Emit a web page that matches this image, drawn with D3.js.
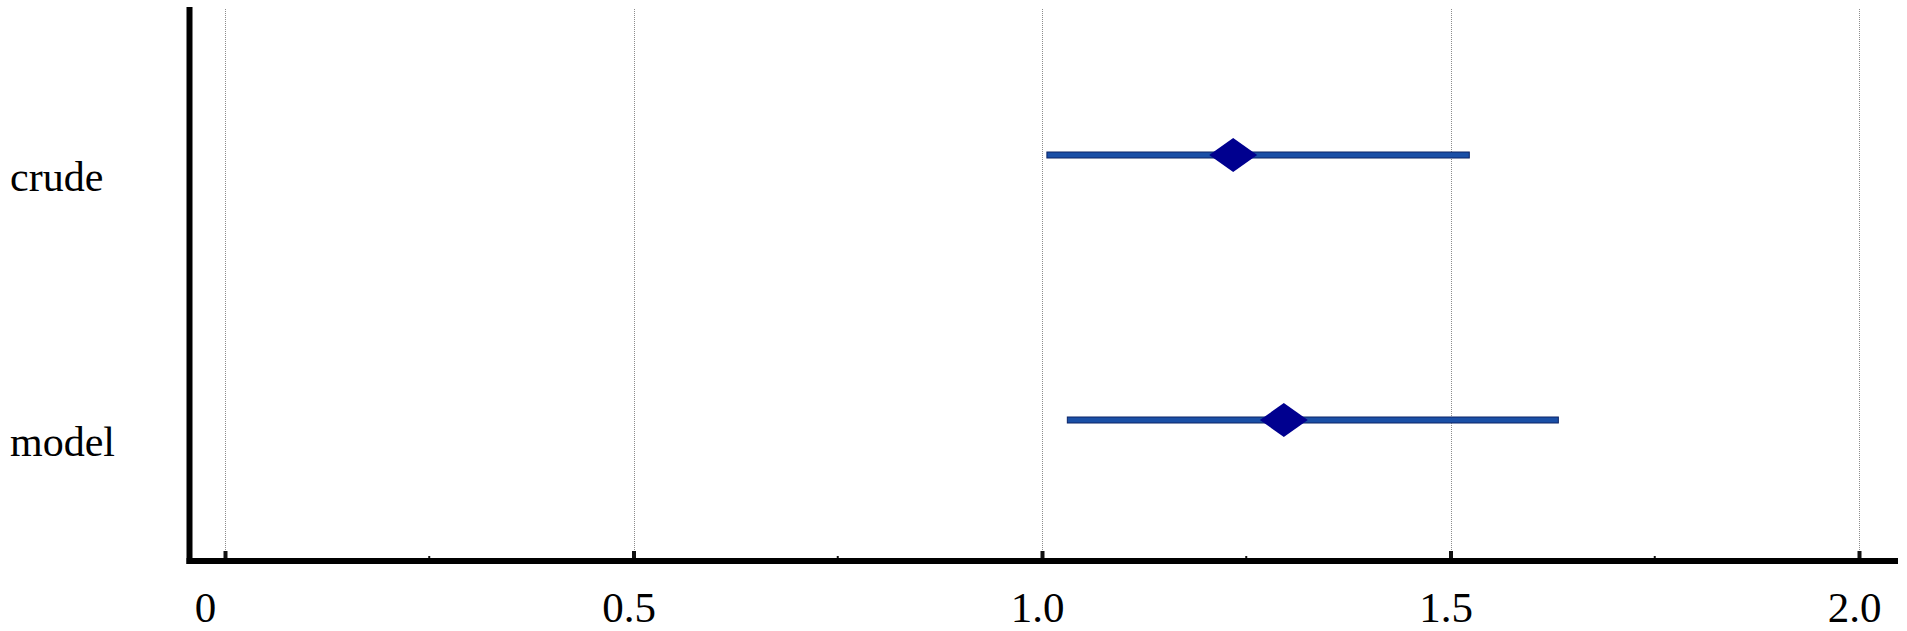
<!doctype html>
<html lang="en">
<head>
  <meta charset="utf-8">
  <title>crude vs model</title>
  <style>
    body { margin: 0; background: #fff; }
    svg { display: block; }
    .grid line { stroke: #8c8c8c; stroke-width: 1; stroke-dasharray: 1,1; }
    .xaxis text { font-family: "Liberation Serif", "Times New Roman", serif; font-size: 43px; fill: #000; }
    .cat { font-family: "Liberation Serif", "Times New Roman", serif; font-size: 42px; fill: #000; }
  </style>
</head>
<body>
  <div id="chart"></div>
  <script src="https://d3js.org/d3.v7.min.js"></script>
  <script>
  (function(){

    // values
    var categories = ["crude", "model"];
    var estimates = [1.234, 1.296];
    var lower = [1.006, 1.031];
    var upper = [1.523, 1.632];
    var majorTicks = [0, 0.5, 1, 1.5, 2];
    var tickLabels = ["0", "0.5", "1.0", "1.5", "2.0"];
    var minorTicks = [0.25, 0.75, 1.25, 1.75];

    var width = 1907, height = 631;
    var axisY = 561, axisX = 189.5, top = 7;

    var svg = d3.select("#chart").append("svg")
        .attr("width", width)
        .attr("height", height);

    var x = d3.scaleLinear().domain([0, 2]).range([225, 1859]);
    var y = d3.scalePoint().domain(categories).range([155, 420]);

    var rows = categories.map(function(c, i) {
      return { name: c, est: estimates[i], lo: lower[i], hi: upper[i] };
    });

    // dotted grid at major ticks
    svg.append("g").attr("class", "grid")
      .selectAll("line").data(majorTicks).enter()
      .append("line")
        .attr("x1", function(d) { return Math.round(x(d)) + 0.5; })
        .attr("x2", function(d) { return Math.round(x(d)) + 0.5; })
        .attr("y1", top + 2)
        .attr("y2", axisY - 10);

    // bottom axis, ticks pointing up
    var xAxis = d3.axisBottom(x)
        .tickValues(majorTicks)
        .tickFormat(function(d, i) { return tickLabels[i]; })
        .tickSizeInner(-10)
        .tickSizeOuter(0)
        .tickPadding(30);

    var gx = svg.append("g").attr("class", "xaxis")
        .attr("transform", "translate(0," + axisY + ")")
        .call(xAxis);
    gx.select(".domain").remove();
    gx.selectAll(".tick line").attr("stroke", "#111").attr("stroke-width", 4);
    gx.selectAll(".tick text")
        .attr("font-family", null).attr("font-size", null)
        .attr("dx", function(d) { return d === 0 ? -20 : -5; });

    // minor ticks
    svg.append("g").selectAll("line").data(minorTicks).enter()
      .append("line")
        .attr("x1", function(d) { return x(d); })
        .attr("x2", function(d) { return x(d); })
        .attr("y1", axisY)
        .attr("y2", axisY - 5)
        .attr("stroke", "#111").attr("stroke-width", 2);

    // the two thick axis lines
    svg.append("line")
        .attr("x1", axisX - 3).attr("x2", 1898)
        .attr("y1", axisY).attr("y2", axisY)
        .attr("stroke", "#000").attr("stroke-width", 6);
    svg.append("line")
        .attr("x1", axisX).attr("x2", axisX)
        .attr("y1", top).attr("y2", axisY + 3)
        .attr("stroke", "#000").attr("stroke-width", 6);

    // category labels, a bit below each row
    svg.append("g").selectAll("text").data(rows).enter()
      .append("text")
        .attr("class", "cat")
        .attr("x", 10)
        .attr("y", function(d) { return y(d.name) + 36; })
        .text(function(d) { return d.name; });

    // interval bars
    svg.append("g").selectAll("rect").data(rows).enter()
      .append("rect")
        .attr("x", function(d) { return x(d.lo); })
        .attr("y", function(d) { return y(d.name) - 3; })
        .attr("width", function(d) { return x(d.hi) - x(d.lo); })
        .attr("height", 6)
        .attr("fill", "#1a4fa6")
        .attr("stroke", "#0c2466")
        .attr("stroke-width", 1);

    // diamonds at the estimates
    var hw = 24, hh = 17;
    svg.append("g").selectAll("path").data(rows).enter()
      .append("path")
        .attr("d", function(d) {
          var cx = x(d.est), cy = y(d.name);
          return "M" + (cx - hw) + "," + cy + "L" + cx + "," + (cy - hh) +
                 "L" + (cx + hw) + "," + cy + "L" + cx + "," + (cy + hh) + "Z";
        })
        .attr("fill", "#00008f");

  })();
  </script>
</body>
</html>
